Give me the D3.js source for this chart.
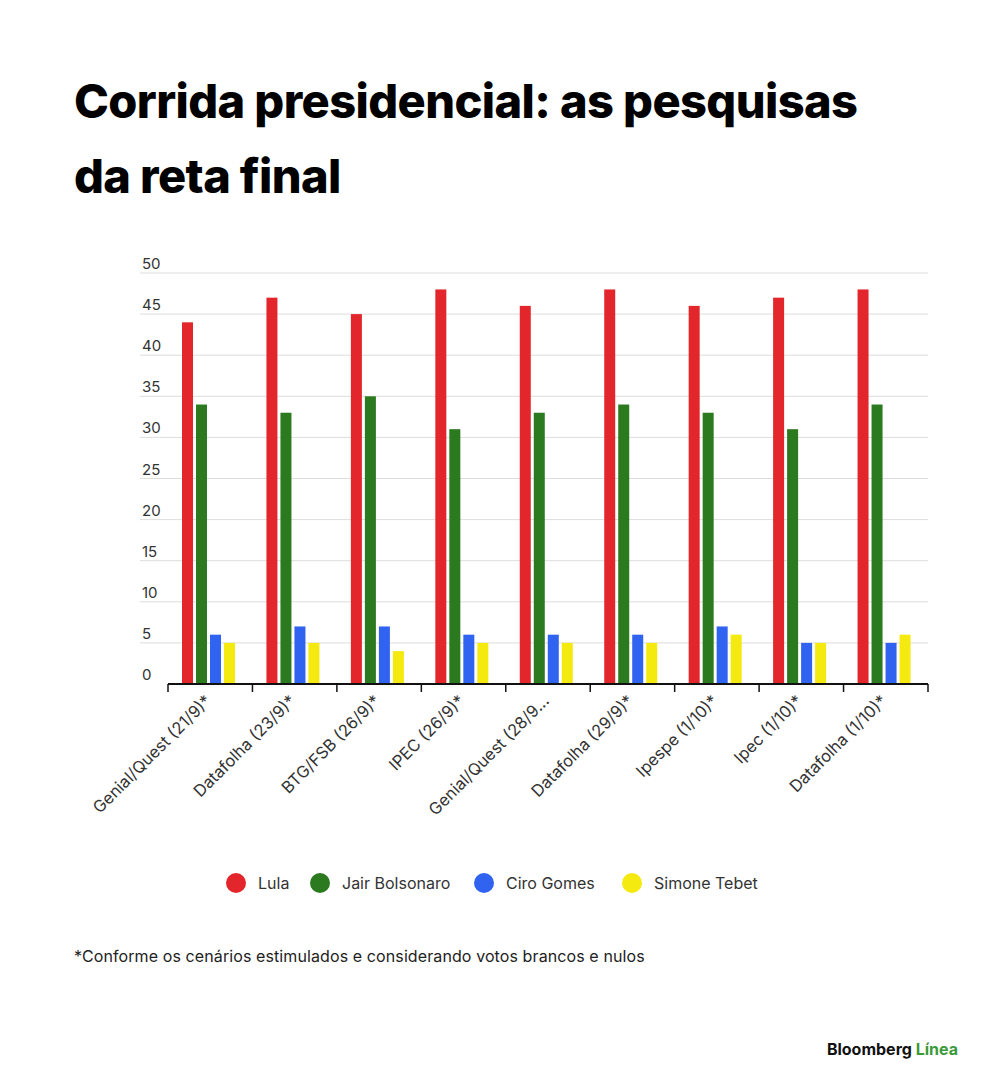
<!DOCTYPE html>
<html><head><meta charset="utf-8">
<script src="https://cdn.jsdelivr.net/npm/d3@7"></script>
<style>body{margin:0;background:#fff;font-family:Inter,"Noto Sans",sans-serif}</style>
</head><body>
<svg id="vis" width="1000" height="1092"></svg>
<script>
var categories = ["Genial/Quest (21/9)*","Datafolha (23/9)*","BTG/FSB (26/9)*","IPEC (26/9)*","Genial/Quest (28/9...","Datafolha (29/9)*","Ipespe (1/10)*","Ipec (1/10)*","Datafolha (1/10)*"]
var seriesNames = ["Lula","Jair Bolsonaro","Ciro Gomes","Simone Tebet"]
var colors = ["#e3262b","#2b7a1f","#2f63f0","#f4ea0f"]
var lula = [44,47,45,48,46,48,46,47,48]
var bolsonaro = [34,33,35,31,33,34,33,31,34]
var ciro = [6,7,7,6,6,6,7,5,5]
var tebet = [5,5,4,5,5,5,6,5,6]
var yTicks = [0,5,10,15,20,25,30,35,40,45,50]
var series = [lula,bolsonaro,ciro,tebet]

var svg = d3.select("#vis")
svg.append("text").attr("x",74).attr("y",118).attr("font-size",47).attr("font-weight",800)
  .attr("letter-spacing",-0.6).text("Corrida presidencial: as pesquisas")
svg.append("text").attr("x",74).attr("y",193).attr("font-size",47).attr("font-weight",800)
  .attr("letter-spacing",-0.6).text("da reta final")

var x = d3.scaleBand().domain(categories).range([168,928])
var y = d3.scaleLinear().domain([0,50]).range([684,273])

var g = svg.append("g")
yTicks.forEach(function(t){
  if (t>0) g.append("line").attr("x1",140).attr("x2",928).attr("y1",y(t)).attr("y2",y(t)).attr("stroke","#ddd")
  g.append("text").attr("x",142).attr("y",y(t)-4).attr("font-size",15).attr("fill","#333").text(t)
})

series.forEach(function(s,i){
  g.selectAll(null).data(s).enter().append("rect")
    .attr("x",function(d,j){return x(categories[j])+14+i*14})
    .attr("y",function(d){return y(d)}).attr("width",11)
    .attr("height",function(d){return y(0)-y(d)}).attr("fill",colors[i])
})

g.append("line").attr("x1",168).attr("x2",928).attr("y1",684).attr("y2",684).attr("stroke","#111").attr("stroke-width",2)
d3.range(categories.length+1).forEach(function(k){
  var xx = 168 + k*x.bandwidth()
  g.append("line").attr("x1",xx).attr("x2",xx).attr("y1",684).attr("y2",692).attr("stroke","#111").attr("stroke-width",1.5)
})
categories.forEach(function(c){
  var cx = x(c)+x.bandwidth()/2
  g.append("text").attr("transform","translate("+(cx+2)+",702) rotate(-45)")
    .attr("text-anchor","end").attr("font-size",16.5).attr("fill","#333").text(c)
})

var lx = [236,320,484,632]
seriesNames.forEach(function(n,i){
  svg.append("circle").attr("cx",lx[i]).attr("cy",883).attr("r",10).attr("fill",colors[i])
  svg.append("text").attr("x",lx[i]+22).attr("y",889).attr("font-size",16).attr("fill","#333").text(n)
})

svg.append("text").attr("x",74).attr("y",962).attr("font-size",16).attr("fill","#222")
  .attr("letter-spacing",0.1).text("*Conforme os cenários estimulados e considerando votos brancos e nulos")

var logo = svg.append("text").attr("x",958).attr("y",1055).attr("text-anchor","end").attr("font-size",16).attr("font-weight",700)
logo.append("tspan").attr("fill","#111").text("Bloomberg ")
logo.append("tspan").attr("fill","#3a9a3a").text("Línea")
</script>
</body></html>
